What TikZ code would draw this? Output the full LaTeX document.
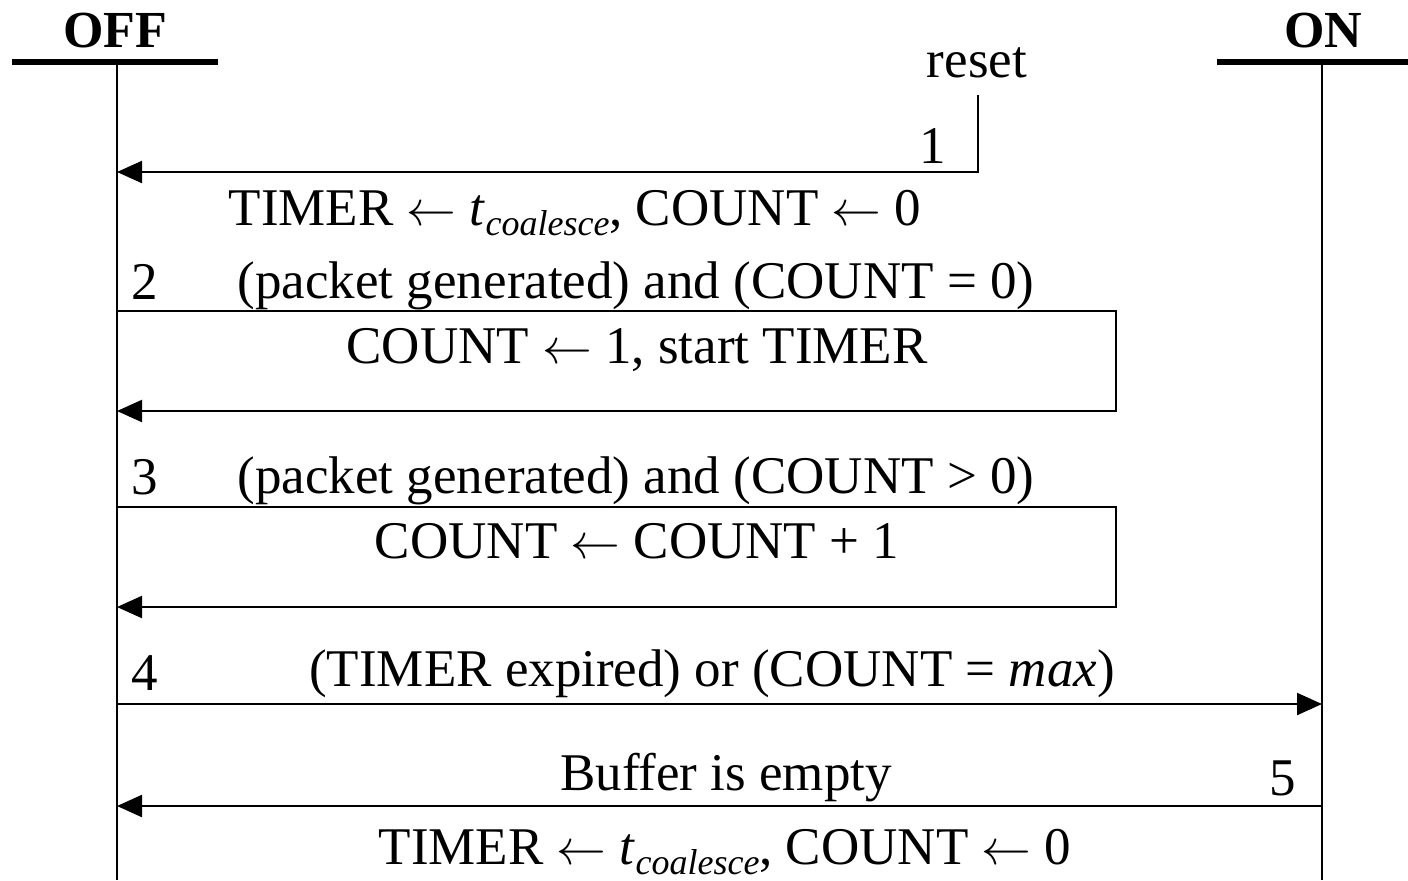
\documentclass[tikz,border=0pt]{standalone}
\usepackage{fontspec}
\setmainfont{Liberation Serif}
\usetikzlibrary{arrows.meta}

% t with an italic, lowered subscript
\newcommand{\tcoal}{\textit{t}\raisebox{-5pt}{\fontsize{18}{18}\selectfont\itshape coalesce}}
% assignment arrow
\newcommand{\asgn}{\ensuremath{\leftarrow}}

\begin{document}
\begin{tikzpicture}[x=0.5pt,y=-0.5pt,
  lbl/.style={anchor=base, inner sep=0pt, font=\fontsize{26.5}{30}\selectfont},
  hdr/.style={lbl, font=\fontsize{26}{30}\selectfont\bfseries},
  bar/.style={line width=2.6pt},
  life/.style={line width=1pt},
  msg/.style={line width=1.1pt},
  arr/.style={msg, -{Triangle[length=12.5pt,width=11pt]}}]
\useasboundingbox (0,0) rectangle (1408,880);

% state headers and lifelines
\node[hdr] (off) at (115,47) {OFF};
\node[hdr] (on)  at (1323,47) {ON};
\coordinate (offL) at (12,62);   \coordinate (offR) at (218,62);
\coordinate (onL)  at (1217,62); \coordinate (onR)  at (1408,62);
\draw[bar] (offL) -- (offR);
\draw[bar] (onL) -- (onR);
\coordinate (offtop) at (117,62);  \coordinate (offbot) at (117,880);
\coordinate (ontop)  at (1322,62); \coordinate (onbot)  at (1322,880);
\draw[life] (offtop) -- (offbot);
\draw[life] (ontop) -- (onbot);

% 1: reset
\node[lbl] (reset) at (977,77) {reset};
\coordinate (r0) at (978,95);
\coordinate (r1) at (978,172);
\coordinate (r2) at (117,172);
\draw[arr] (r0) -- (r1) -- (r2);
\node[lbl] (n1) at (933,163) {1};
\node[lbl] (t1) at (575,225) {TIMER \asgn{} \tcoal, COUNT \asgn{} 0};

% 2: first packet
\node[lbl] (n2) at (145,299) {2};
\node[lbl] (c2) at (636,298) {(packet generated) and (COUNT = 0)};
\coordinate (s2a) at (117,311);  \coordinate (s2b) at (1116,311);
\coordinate (s2c) at (1116,411); \coordinate (s2d) at (117,411);
\draw[arr] (s2a) -- (s2b) -- (s2c) -- (s2d);
\node[lbl] (a2) at (637,363) {COUNT \asgn{} 1, start TIMER};

% 3: further packets
\node[lbl] (n3) at (145,494) {3};
\node[lbl] (c3) at (636,493) {(packet generated) and (COUNT > 0)};
\coordinate (s3a) at (117,507);  \coordinate (s3b) at (1116,507);
\coordinate (s3c) at (1116,607); \coordinate (s3d) at (117,607);
\draw[arr] (s3a) -- (s3b) -- (s3c) -- (s3d);
\node[lbl] (a3) at (637,558) {COUNT \asgn{} COUNT + 1};

% 4: OFF -> ON
\node[lbl] (n4) at (145,690) {4};
\node[lbl] (c4) at (712,686) {(TIMER expired) or (COUNT = \textit{max})};
\coordinate (s4a) at (117,704); \coordinate (s4b) at (1322,704);
\draw[arr] (s4a) -- (s4b);

% 5: ON -> OFF
\node[lbl] (c5) at (726,790) {Buffer is empty};
\node[lbl] (n5) at (1283,795) {5};
\coordinate (s5a) at (1322,806); \coordinate (s5b) at (117,806);
\draw[arr] (s5a) -- (s5b);
\node[lbl] (t5) at (725,864) {TIMER \asgn{} \tcoal, COUNT \asgn{} 0};
\end{tikzpicture}
\end{document}
